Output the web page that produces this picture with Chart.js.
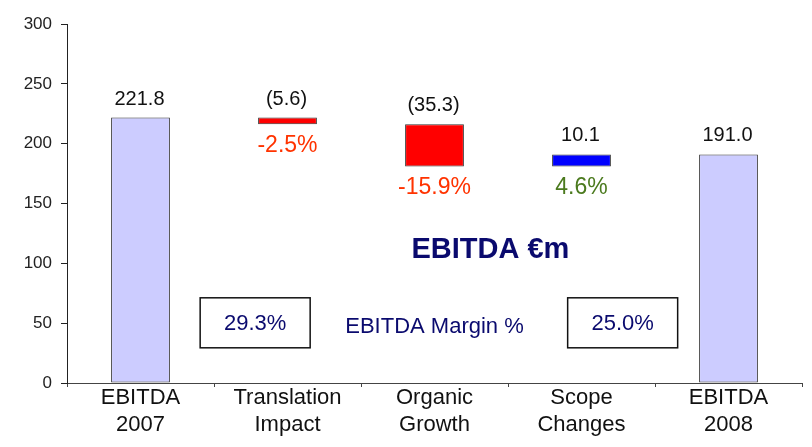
<!DOCTYPE html>
<html>
<head>
<meta charset="utf-8">
<script src="https://cdn.jsdelivr.net/npm/chart.js@4"></script>
<style>
  html, body { margin: 0; padding: 0; background: #ffffff; }
  #wrap { width: 812px; height: 447px; position: relative; }
</style>
</head>
<body>
<div id="wrap"><canvas id="c" width="812" height="447"></canvas></div>
<script>
// ---- data ----
const categories = [["EBITDA", "2007"], ["Translation", "Impact"], ["Organic", "Growth"], ["Scope", "Changes"], ["EBITDA", "2008"]];
const startValue = 221.8;
const changes = [-5.6, -35.3, 10.1];
const endValue = 191.0;
const valueLabels = ["221.8", "(5.6)", "(35.3)", "10.1", "191.0"];
const pctLabels = [null, "-2.5%", "-15.9%", "4.6%", null];
const marginStart = "29.3%";
const marginEnd = "25.0%";
const yTicks = [0, 50, 100, 150, 200, 250, 300];

// build floating bars from the values
const bars = [[0, startValue]];
let running = startValue;
changes.forEach(d => {
  const next = Math.round((running + d) * 10) / 10;
  bars.push([Math.min(running, next), Math.max(running, next)]);
  running = next;
});
bars.push([0, endValue]);

const barColors = ["#CCCCFF", "#FF0000", "#FF0000", "#0000FF", "#CCCCFF"];
const pctColors = [null, "#FF3300", "#FF3300", "#4B7A1E", null];
const NAVY = "#0A0A6E";
const FONT = "'Liberation Sans', Arial, sans-serif";

const labelPlugin = {
  id: "labels",
  afterDatasetsDraw(chart) {
    const ctx = chart.ctx;
    const meta = chart.getDatasetMeta(0);
    const xs = chart.scales.x, ys = chart.scales.y;
    ctx.save();
    meta.data.forEach((el, i) => {
      const top = Math.min(el.y, el.base);
      const bot = Math.max(el.y, el.base);
      ctx.textAlign = "center";
      ctx.textBaseline = "alphabetic";
      ctx.fillStyle = "#111111";
      ctx.font = "20px " + FONT;
      ctx.fillText(valueLabels[i], el.x - 1, top - 13);
      if (pctLabels[i]) {
        ctx.fillStyle = pctColors[i];
        ctx.font = "23px " + FONT;
        ctx.textBaseline = "top";
        ctx.fillText(pctLabels[i], el.x, bot + 10);
      }
    });
    // title
    ctx.fillStyle = NAVY;
    ctx.textAlign = "center";
    ctx.textBaseline = "middle";
    ctx.font = "bold 29px " + FONT;
    ctx.fillText("EBITDA €m", xs.getPixelForValue(2.38), ys.getPixelForValue(111));
    // margin text
    ctx.font = "22px " + FONT;
    ctx.fillText("EBITDA Margin %", xs.getPixelForValue(2.0), ys.getPixelForValue(47));
    // boxes
    [[0.78, marginStart], [3.28, marginEnd]].forEach(([ix, txt]) => {
      const cx = xs.getPixelForValue(ix), cy = ys.getPixelForValue(50.3);
      ctx.fillStyle = "#ffffff";
      ctx.fillRect(cx - 55, cy - 25, 110, 50);
      ctx.strokeStyle = "#111111";
      ctx.lineWidth = 1.5;
      ctx.strokeRect(cx - 55, cy - 25, 110, 50);
      ctx.fillStyle = NAVY;
      ctx.font = "22px " + FONT;
      ctx.fillText(txt, cx, cy + 1);
    });
    ctx.restore();
  }
};

new Chart(document.getElementById("c"), {
  type: "bar",
  data: {
    labels: categories,
    datasets: [{
      data: bars,
      backgroundColor: barColors,
      borderColor: "#333333",
      borderWidth: 1,
      borderSkipped: false,
      barPercentage: 0.4,
      categoryPercentage: 1.0
    }]
  },
  options: {
    responsive: false,
    animation: false,
    devicePixelRatio: 1,
    layout: { padding: { top: 24, right: 10, left: 0, bottom: 0 } },
    plugins: { legend: { display: false }, tooltip: { enabled: false } },
    scales: {
      x: {
        offset: true,
        grid: { display: true, drawOnChartArea: false, offset: true, tickLength: 4, color: "#444444" },
        border: { display: true, color: "#444444", width: 1 },
        ticks: {
          color: "#111111",
          font: { family: FONT, size: 22, lineHeight: 1.25 },
          padding: -3,
          maxRotation: 0,
          autoSkip: false
        },
        afterFit(scale) { scale.height = 64; }
      },
      y: {
        min: 0, max: 300,
        afterBuildTicks(scale) { scale.ticks = yTicks.map(v => ({ value: v })); },
        grid: { display: true, drawOnChartArea: false, tickLength: 6, color: "#222222" },
        border: { display: true, color: "#222222", width: 1 },
        ticks: {
          color: "#222222",
          font: { family: FONT, size: 17 },
          padding: 9
        },
        afterFit(scale) { scale.width = 67; }
      }
    }
  },
  plugins: [labelPlugin]
});
</script>
</body>
</html>
